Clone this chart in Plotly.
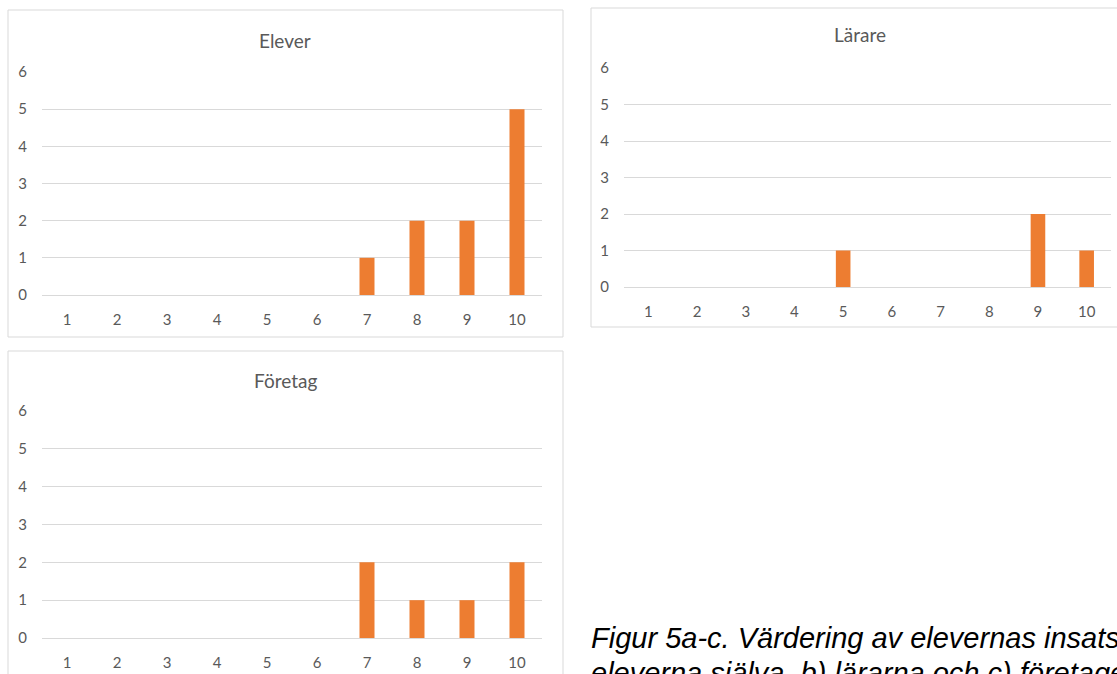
import plotly.graph_objects as go

# ---- data -------------------------------------------------------------
scores = [1, 2, 3, 4, 5, 6, 7, 8, 9, 10]
elever = [0, 0, 0, 0, 0, 0, 1, 2, 2, 5]
larare = [0, 0, 0, 0, 1, 0, 0, 0, 2, 1]
foretag = [0, 0, 0, 0, 0, 0, 2, 1, 1, 2]
panel_titles = ["Elever", "Lärare", "Företag"]
y_ticks = [0, 1, 2, 3, 4, 5, 6]
caption_lines = [
    "Figur 5a-c. Värdering av elevernas insatser av a)",
    "eleverna själva, b) lärarna och c) företagen.",
]

# ---- page geometry (pixels) ------------------------------------------
W, H = 1117, 674
BAR = "#ED7D31"
GRID = "#D9D9D9"
TXT = "#595959"
FONT = "Lato"


def fx(px):
    return px / W


def fy(py):
    return 1 - py / H


# plot area (x0, x1, ytop, ybottom), frame (x0, y0, x1, y1), title centre
panels = [
    dict(data=elever, plot=(42, 542, 72, 295), frame=(8, 10, 563, 337), title=(285, 40)),
    dict(data=larare, plot=(624, 1111, 68, 287), frame=(591, 8, 1140, 327), title=(860, 35)),
    dict(data=foretag, plot=(42, 542, 411, 638), frame=(8, 351, 563, 700), title=(285, 380)),
]

fig = go.Figure()
layout = dict(
    width=W,
    height=H,
    margin=dict(l=0, r=0, t=0, b=0, autoexpand=False),
    paper_bgcolor="white",
    plot_bgcolor="white",
    showlegend=False,
    bargap=0.7,
    font=dict(family=FONT, color=TXT, size=14),
    shapes=[],
    annotations=[],
)

for i, (p, name) in enumerate(zip(panels, panel_titles), start=1):
    xa = "x" if i == 1 else f"x{i}"
    ya = "y" if i == 1 else f"y{i}"
    fig.add_trace(
        go.Bar(x=scores, y=p["data"], marker=dict(color=BAR, line=dict(width=0)),
               xaxis=xa, yaxis=ya, name=name)
    )
    x0, x1, yt, yb = p["plot"]
    layout["xaxis" if i == 1 else f"xaxis{i}"] = dict(
        domain=[fx(x0), fx(x1)],
        anchor=ya,
        range=[0.5, 10.5],
        tickmode="array",
        tickvals=scores,
        ticktext=[str(s) for s in scores],
        showgrid=False,
        zeroline=False,
        showline=True,
        linecolor=GRID,
        linewidth=1,
        ticks="",
        ticklabelstandoff=11,
        tickfont=dict(family=FONT, size=15, color=TXT),
        fixedrange=True,
    )
    layout["yaxis" if i == 1 else f"yaxis{i}"] = dict(
        domain=[fy(yb), fy(yt)],
        anchor=xa,
        range=[0, 6],
        tickmode="array",
        tickvals=y_ticks,
        showgrid=True,
        gridcolor=GRID,
        gridwidth=1,
        zeroline=False,
        showline=False,
        ticks="",
        ticklabelstandoff=14,
        tickfont=dict(family=FONT, size=15, color=TXT),
        fixedrange=True,
    )
    fx0, fy0, fx1, fy1 = p["frame"]
    layout["shapes"].append(dict(
        type="rect", xref="paper", yref="paper",
        x0=fx(fx0), x1=fx(fx1), y0=fy(fy1), y1=fy(fy0),
        line=dict(color=GRID, width=1), fillcolor="rgba(0,0,0,0)", layer="below",
    ))
    tx, ty = p["title"]
    layout["annotations"].append(dict(
        text=name, xref="paper", yref="paper", x=fx(tx), y=fy(ty),
        xanchor="center", yanchor="middle", showarrow=False,
        font=dict(family=FONT, size=19, color=TXT),
    ))

# figure caption, left aligned beside the lower chart
for k, line in enumerate(caption_lines):
    layout["annotations"].append(dict(
        text=f"<i>{line}</i>", xref="paper", yref="paper",
        x=fx(589), y=fy(638 + 35 * k), xanchor="left", yanchor="middle",
        showarrow=False, align="left",
        font=dict(family="Liberation Sans", size=29, color="#000000"),
    ))

fig.update_layout(**layout)
fig.write_html("out.html")
